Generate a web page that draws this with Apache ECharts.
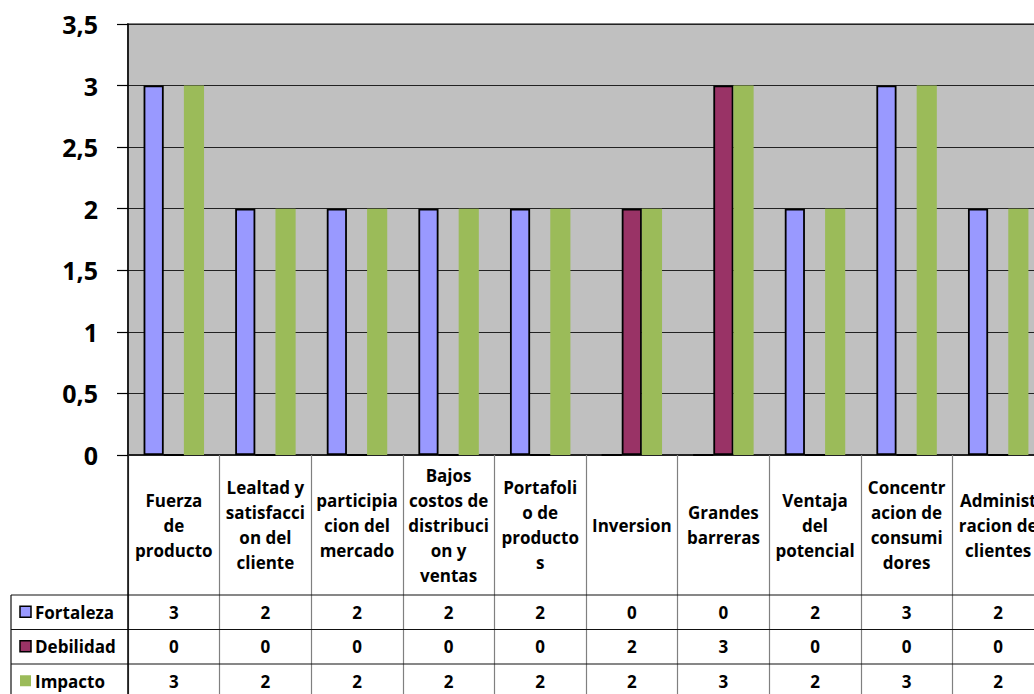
<!DOCTYPE html>
<html>
<head>
<meta charset="utf-8">
<title>Fortaleza, Debilidad e Impacto</title>
<script src="https://cdn.jsdelivr.net/npm/echarts@6/dist/echarts.min.js"></script>
<style>
  html, body { margin: 0; padding: 0; background: #fff; overflow: hidden; }
  #chart { width: 1060px; height: 694px; }
</style>
</head>
<body>
<div id="chart"></div>
<script>
// Category names, broken into lines the way they appear in the table header
const categories = [
  'Fuerza\nde\nproducto',
  'Lealtad y\nsatisfacci\non del\ncliente',
  'participia\ncion del\nmercado',
  'Bajos\ncostos de\ndistribuci\non y\nventas',
  'Portafoli\no de\nproducto\ns',
  'Inversion',
  'Grandes\nbarreras',
  'Ventaja\ndel\npotencial',
  'Concentr\nacion de\nconsumi\ndores',
  'Administ\nracion de\nclientes'
];

const seriesNames = ['Fortaleza', 'Debilidad', 'Impacto'];
const fortaleza = [3, 2, 2, 2, 2, 0, 0, 2, 3, 2];
const debilidad = [0, 0, 0, 0, 0, 2, 3, 0, 0, 0];
const impacto   = [3, 2, 2, 2, 2, 2, 3, 2, 3, 2];

const yTicks = [0, 0.5, 1, 1.5, 2, 2.5, 3, 3.5];

const colors = ['#9999FF', '#993366', '#9BBB59'];
const rows = [fortaleza, debilidad, impacto];

const FONT = '"Open Sans", Lato, sans-serif';

// Layout of the plot and the data table beneath it
const G = { left: 128, top: 24, width: 916, height: 431 };
const axisY = G.top + G.height;          // y of the category axis
const headerH = 140;                     // height of the category-name row
const rowH = 34.5;                       // height of each value row
const tableLeft = 11;
const pageW = 1060, pageH = 694;

const chart = echarts.init(document.getElementById('chart'), null, { renderer: 'svg' });

// one extra category axis per table row, used only for its labels
const valueAxes = rows.map((vals, r) => ({
  type: 'category',
  data: categories,
  gridIndex: 0,
  position: 'bottom',
  axisLine: { show: false },
  axisTick: { show: false },
  axisLabel: {
    interval: 0,
    margin: headerH + rowH * r + rowH / 2,
    verticalAlign: 'middle',
    fontFamily: FONT,
    fontWeight: 'bold',
    fontSize: 17,
    color: '#000',
    formatter: (v, i) => String(vals[i])
  }
}));

const graphics = [];
const line = (x1, y1, x2, y2, color, w) => graphics.push({
  type: 'line', silent: true, z: 10,
  shape: { x1, y1, x2, y2 },
  style: { stroke: color, lineWidth: w }
});

// table grid: horizontal rules and the left edge
for (let r = 0; r < 3; r++) {
  const y = axisY + headerH + rowH * r;
  line(tableLeft, y, pageW, y, '#111', 1.2);
}
line(tableLeft, axisY + headerH, tableLeft, pageH, '#111', 1.2);
line(G.left, axisY, G.left, pageH, '#000', 1.5);

// row headers with their legend keys
seriesNames.forEach((name, r) => {
  const cy = axisY + headerH + rowH * r + rowH / 2;
  graphics.push({
    type: 'rect', silent: true, z: 10,
    shape: { x: 20, y: cy - 6, width: 11, height: 11 },
    style: { fill: colors[r], stroke: r < 2 ? '#000' : null, lineWidth: r < 2 ? 1.5 : 0 }
  });
  graphics.push({
    type: 'text', silent: true, z: 10,
    x: 35, y: cy,
    style: {
      text: name, fill: '#000',
      font: 'bold 17px ' + FONT,
      verticalAlign: 'middle', align: 'left'
    }
  });
});

const barStyle = (i) => ({
  color: colors[i],
  borderColor: i < 2 ? '#000' : colors[i],
  borderWidth: i < 2 ? 1.8 : 0
});

chart.setOption({
  animation: false,
  backgroundColor: '#fff',
  grid: {
    left: G.left, top: G.top, width: G.width, height: G.height,
    show: true,
    backgroundColor: '#C0C0C0',
    borderColor: '#808080',
    borderWidth: 2
  },
  xAxis: [
    {
      type: 'category',
      data: categories,
      position: 'bottom',
      axisLine: { show: true, lineStyle: { color: '#222', width: 2 } },
      axisTick: {
        show: true, interval: 0, alignWithLabel: false,
        length: pageH - axisY,
        lineStyle: { color: '#808080', width: 1.2 }
      },
      axisLabel: {
        interval: 0,
        margin: headerH / 2,
        verticalAlign: 'middle',
        align: 'center',
        lineHeight: 25,
        fontFamily: FONT,
        fontWeight: 'bold',
        fontSize: 17,
        color: '#000'
      }
    },
    ...valueAxes
  ],
  yAxis: {
    type: 'value',
    min: 0, max: 3.5, interval: 0.5,
    axisLine: { show: true, lineStyle: { color: '#000', width: 1.5 } },
    axisTick: { show: true, length: 11, lineStyle: { color: '#000', width: 1.2 } },
    splitLine: { show: true, lineStyle: { color: '#222', width: 1.2 } },
    axisLabel: {
      margin: 30,
      fontFamily: FONT,
      fontWeight: 'bold',
      fontSize: 25,
      color: '#000',
      formatter: (v) => yTicks.includes(v) ? String(v).replace('.', ',') : ''
    }
  },
  series: rows.map((vals, i) => ({
    name: seriesNames[i],
    type: 'bar',
    xAxisIndex: 0,
    data: vals,
    barWidth: '22%',
    barGap: '0%',
    itemStyle: barStyle(i)
  })),
  graphic: graphics
});
</script>
</body>
</html>
